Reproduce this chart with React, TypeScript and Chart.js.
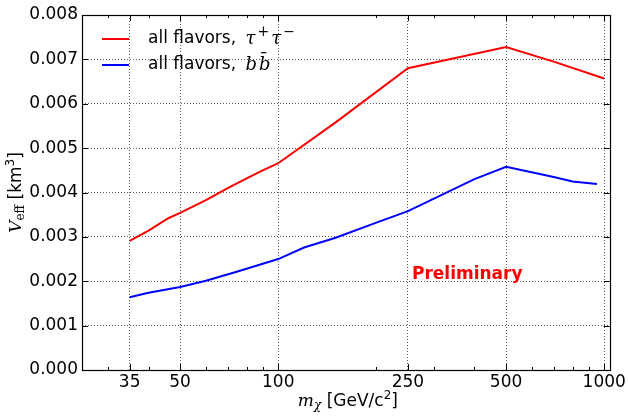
import { useEffect, useRef } from "react";
import { Chart, registerables } from "chart.js";

Chart.register(...registerables);

// ---- data ----
const tauMass = [35, 40, 46, 50, 60, 70, 80, 88, 100, 150, 250, 500, 700, 1000];
const tauVeff = [0.00291, 0.00314, 0.00342, 0.00354, 0.00383, 0.0041, 0.00432, 0.00447, 0.00466, 0.00558, 0.0068, 0.00728, 0.00695, 0.00657];
const bbMass = [35, 40, 50, 60, 75, 100, 120, 150, 200, 250, 400, 500, 700, 800, 950];
const bbVeff = [0.00164, 0.00174, 0.00187, 0.00201, 0.00222, 0.0025, 0.00276, 0.00298, 0.00332, 0.00358, 0.0043, 0.00458, 0.00435, 0.00425, 0.00419];
const seriesLabels = ["all flavors, τ⁺τ⁻", "all flavors, bb\u0304"];
const seriesColors = ["#ff0000", "#0000ff"];
const xTickValues = [35, 50, 100, 250, 500, 1000];
const xMinorValues = [30, 40, 60, 70, 80, 90, 200, 300, 400, 600, 700, 800, 900];
const yTickValues = [0, 0.001, 0.002, 0.003, 0.004, 0.005, 0.006, 0.007, 0.008];
const annotationText = "Preliminary";

const SANS = "'DejaVu Sans', sans-serif";
const SERIF = "'DejaVu Serif', serif";
const FS = 17;

type Run = { t: string; font: string; dy?: number; dx?: number };

function drawRuns(ctx: CanvasRenderingContext2D, runs: Run[], x: number, y: number, align: "left" | "center") {
  let total = 0;
  for (const r of runs) {
    ctx.font = r.font;
    total += ctx.measureText(r.t).width + (r.dx || 0);
  }
  let cx = align === "center" ? x - total / 2 : x;
  for (const r of runs) {
    ctx.font = r.font;
    cx += r.dx || 0;
    ctx.fillText(r.t, cx, y + (r.dy || 0));
    cx += ctx.measureText(r.t).width;
  }
}

function labelRuns(label: string): Run[] {
  const idx = label.indexOf(", ");
  const plain = label.slice(0, idx + 2);
  const math = label.slice(idx + 2);
  const runs: Run[] = [{ t: plain, font: `${FS}px ${SANS}` }];
  const chars = Array.from(math);
  let first = true;
  const supFont = `${Math.round(FS * 0.8)}px ${SERIF}`;
  for (let i = 0; i < chars.length; i++) {
    const c = chars[i];
    if (c === "⁺") runs.push({ t: "+", font: supFont, dy: -7, dx: 2 });
    else if (c === "⁻") runs.push({ t: "−", font: supFont, dy: -7, dx: 2 });
    else if (c === "\u0304") continue;
    else {
      const next = chars[i + 1];
      runs.push({ t: next === "\u0304" ? c + "\u0304" : c, font: `italic ${FS + 1}px ${SERIF}`, dx: first ? 4 : 2 });
      first = false;
    }
  }
  return runs;
}

const decorPlugin = {
  id: "decor",
  afterDraw(chart: any) {
    const ctx: CanvasRenderingContext2D = chart.ctx;
    const { left, right, top, bottom } = chart.chartArea;
    const xs = chart.scales.x;
    const ys = chart.scales.y;
    ctx.save();
    // ticks inward
    ctx.strokeStyle = "#000";
    ctx.lineWidth = 1;
    ctx.beginPath();
    const major = 6;
    const minor = 3;
    for (const v of xTickValues) {
      const px = Math.round(xs.getPixelForValue(v)) + 0.5;
      ctx.moveTo(px, bottom); ctx.lineTo(px, bottom - major);
      ctx.moveTo(px, top); ctx.lineTo(px, top + major);
    }
    for (const v of xMinorValues) {
      const px = Math.round(xs.getPixelForValue(v)) + 0.5;
      ctx.moveTo(px, bottom); ctx.lineTo(px, bottom - minor);
      ctx.moveTo(px, top); ctx.lineTo(px, top + minor);
    }
    for (const v of yTickValues) {
      const py = Math.round(ys.getPixelForValue(v)) + 0.5;
      ctx.moveTo(left, py); ctx.lineTo(left + major, py);
      ctx.moveTo(right, py); ctx.lineTo(right - major, py);
    }
    ctx.stroke();
    // frame
    ctx.lineWidth = 1.2;
    ctx.strokeRect(Math.round(left) + 0.5, Math.round(top) + 0.5, Math.round(right - left), Math.round(bottom - top));

    // legend
    ctx.textBaseline = "middle";
    chart.data.datasets.forEach((ds: any, i: number) => {
      const ly = 39 + i * 26;
      ctx.strokeStyle = ds.borderColor;
      ctx.lineWidth = 2;
      ctx.beginPath();
      ctx.moveTo(102, ly);
      ctx.lineTo(129, ly);
      ctx.stroke();
      ctx.fillStyle = "#000";
      drawRuns(ctx, labelRuns(ds.label), 148, ly, "left");
    });

    // Preliminary
    ctx.fillStyle = "#ff0000";
    ctx.font = `bold ${FS}px ${SANS}`;
    ctx.textAlign = "center";
    ctx.textBaseline = "middle";
    ctx.fillText(annotationText, xs.getPixelForValue(380), ys.getPixelForValue(0.00216));
    ctx.textAlign = "left";

    // x title
    ctx.fillStyle = "#000";
    ctx.textBaseline = "alphabetic";
    const xRuns: Run[] = [
      { t: "m", font: `italic ${FS}px ${SERIF}` },
      { t: "χ", font: `italic ${Math.round(FS * 0.72)}px ${SERIF}`, dy: 3 },
      { t: " [GeV/c", font: `${FS}px ${SANS}` },
      { t: "2", font: `${Math.round(FS * 0.72)}px ${SANS}`, dy: -7 },
      { t: "]", font: `${FS}px ${SANS}` },
    ];
    drawRuns(ctx, xRuns, (left + right) / 2 + 2, 406, "center");

    // y title
    ctx.save();
    ctx.translate(21, (top + bottom) / 2);
    ctx.rotate(-Math.PI / 2);
    const yRuns: Run[] = [
      { t: "V", font: `italic ${FS}px ${SERIF}` },
      { t: "eff", font: `${Math.round(FS * 0.72)}px ${SERIF}`, dy: 3 },
      { t: " [km", font: `${FS}px ${SANS}` },
      { t: "3", font: `${Math.round(FS * 0.72)}px ${SANS}`, dy: -7 },
      { t: "]", font: `${FS}px ${SANS}` },
    ];
    drawRuns(ctx, yRuns, 0, 0, "center");
    ctx.restore();

    ctx.restore();
  },
};

export default function App() {
  const ref = useRef<HTMLCanvasElement | null>(null);
  useEffect(() => {
    if (!ref.current) return;
    const gridColor = "rgba(0,0,0,0.65)";
    const chart = new Chart(ref.current, {
      type: "line",
      data: {
        datasets: [
          {
            label: seriesLabels[0],
            data: tauMass.map((m, i) => ({ x: m, y: tauVeff[i] })),
            borderColor: seriesColors[0],
            backgroundColor: seriesColors[0],
            borderWidth: 2,
            pointRadius: 0,
            tension: 0,
          },
          {
            label: seriesLabels[1],
            data: bbMass.map((m, i) => ({ x: m, y: bbVeff[i] })),
            borderColor: seriesColors[1],
            backgroundColor: seriesColors[1],
            borderWidth: 2,
            pointRadius: 0,
            tension: 0,
          },
        ],
      },
      options: {
        animation: false,
        responsive: true,
        maintainAspectRatio: false,
        layout: { padding: { top: 15, right: 15, left: 0, bottom: 0 } },
        plugins: { legend: { display: false }, tooltip: { enabled: false } },
        scales: {
          x: {
            type: "logarithmic",
            min: 25,
            max: 1040,
            afterBuildTicks: (s: any) => {
              s.ticks = xTickValues.map((v) => ({ value: v }));
            },
            afterFit: (s: any) => {
              s.height = 47;
            },
            ticks: {
              autoSkip: false,
              maxRotation: 0,
              color: "#000",
              padding: 2,
              font: { family: SANS, size: FS },
              callback: (v: any) => String(v),
            },
            grid: { color: gridColor, lineWidth: 1, drawTicks: false },
            border: { display: false, dash: [1, 2] },
          },
          y: {
            type: "linear",
            min: 0,
            max: 0.008,
            afterBuildTicks: (s: any) => {
              s.ticks = yTickValues.map((v) => ({ value: v }));
            },
            afterFit: (s: any) => {
              s.width = 82;
            },
            ticks: {
              color: "#000",
              padding: 4,
              font: { family: SANS, size: FS },
              callback: (v: any) => Number(v).toFixed(3),
            },
            grid: { color: gridColor, lineWidth: 1, drawTicks: false },
            border: { display: false, dash: [1, 2] },
          },
        },
      },
      plugins: [decorPlugin],
    });
    return () => chart.destroy();
  }, []);
  return (
    <div style={{ position: "absolute", left: 0, top: 0, width: 628, height: 417, background: "#fff" }}>
      <canvas ref={ref} />
    </div>
  );
}
